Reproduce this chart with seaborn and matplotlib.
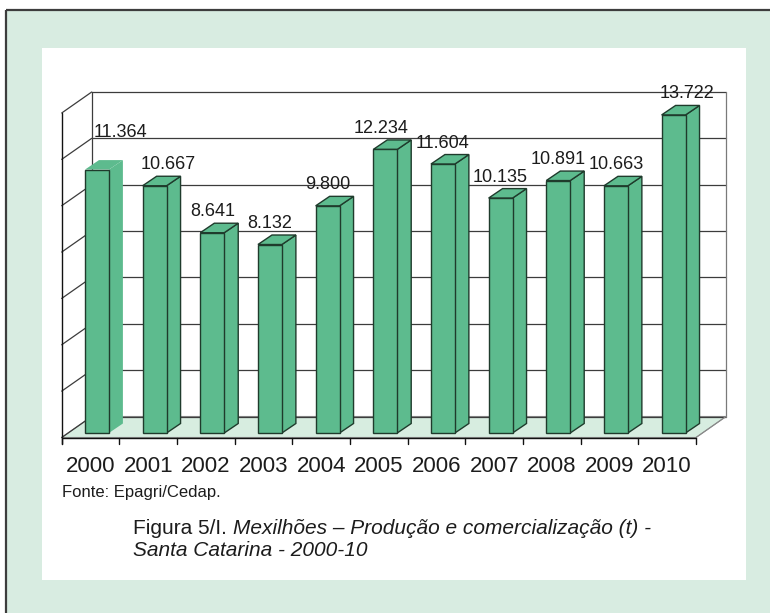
import matplotlib
matplotlib.use("Agg")
import matplotlib.pyplot as plt
import matplotlib.transforms as mtransforms
from matplotlib.patches import Polygon, Rectangle
import seaborn as sns
import pandas as pd

# --- data -------------------------------------------------------------
years = ["2000", "2001", "2002", "2003", "2004", "2005",
         "2006", "2007", "2008", "2009", "2010"]
production_t = [11364, 10667, 8641, 8132, 9800, 12234,
                11604, 10135, 10891, 10663, 13722]
value_labels = ["11.364", "10.667", "8.641", "8.132", "9.800", "12.234",
                "11.604", "10.135", "10.891", "10.663", "13.722"]
y_ticks = [0, 2000, 4000, 6000, 8000, 10000, 12000, 14000]

source_text = "Fonte: Epagri/Cedap."
caption_plain = "Figura 5/I."
caption_italic_1 = "Mexilhões – Produção e comercialização (t) -"
caption_italic_2 = "Santa Catarina - 2000-10"

# --- style ------------------------------------------------------------
sns.set_style("white")
plt.rcParams["font.family"] = ["Liberation Sans", "DejaVu Sans"]

W, H = 770, 613
BAR = "#5dbb8e"
BAR_EDGE = "#1f3b2c"
OUTER = "#d8ece1"
FLOOR = "#d7ede0"
GRID = "#3c3c3c"
TXT = "#1c1c1c"

fig = plt.figure(figsize=(W / 100, H / 100), dpi=100)

# background layer in pixel coordinates
bg = fig.add_axes([0, 0, 1, 1], zorder=0)
bg.set_xlim(0, W)
bg.set_ylim(H, 0)
bg.axis("off")
bg.add_patch(Rectangle((6, 10), W, H, facecolor=OUTER, edgecolor="none"))
bg.plot([6, W], [10, 10], color="#3d3d3d", lw=1.6, solid_capstyle="butt")
bg.plot([6, 6], [10, H], color="#3d3d3d", lw=1.6, solid_capstyle="butt")
bg.add_patch(Rectangle((42, 48), 704, 532, facecolor="white", edgecolor="none"))

# front plane of the 3D box
x0_px, x1_px = 61.7, 696.0
y0_px, y1_px = 437.5, 113.0
ax = fig.add_axes([x0_px / W, (H - y0_px) / H,
                   (x1_px - x0_px) / W, (y0_px - y1_px) / H], zorder=2)
ax.patch.set_visible(False)

df = pd.DataFrame({"ano": years, "t": production_t})
sns.barplot(data=df, x="ano", y="t", ax=ax, color=BAR, saturation=1,
            width=0.415, edgecolor=BAR_EDGE, linewidth=1.0, zorder=5)
bars = list(ax.patches)

ax.set_xlim(-0.5, len(years) - 0.5)
ax.set_ylim(0, y_ticks[-1])
ax.axis("off")

px_x = (x1_px - x0_px) / len(years)      # pixels per category
px_y = (y0_px - y1_px) / y_ticks[-1]     # pixels per tonne


def off(dx_px, dy_px):
    """Pixel offset (right, up) expressed in data units."""
    return dx_px / px_x, dy_px / px_y


wx, wy = off(30, 21)       # depth of the whole box
fx, fy = off(6.4, 4.5)     # front face of the columns
bx, by = off(14, 9.5)      # depth of a column
xl, xr = -0.5, len(years) - 0.5
top = y_ticks[-1]

# back wall and left wall
ax.add_patch(Polygon([(xl, 0), (xl + wx, wy), (xl + wx, top + wy), (xl, top)],
                     closed=True, facecolor="white", edgecolor="none",
                     zorder=0, clip_on=False))
ax.add_patch(Polygon([(xl, 0), (xr, 0), (xr + wx, wy), (xl + wx, wy)],
                     closed=True, facecolor=FLOOR, edgecolor="#8a8a8a",
                     linewidth=0.8, zorder=1, clip_on=False))
for v in y_ticks:
    ax.plot([xl + wx, xr + wx], [v + wy, v + wy], color=GRID, lw=0.9,
            zorder=1, clip_on=False)
    ax.plot([xl, xl + wx], [v, v + wy], color=GRID, lw=0.9,
            zorder=1, clip_on=False)
ax.plot([xl + wx, xl + wx], [wy, top + wy], color=GRID, lw=0.9, zorder=1, clip_on=False)
ax.plot([xr + wx, xr + wx], [wy, top + wy], color="#7a7a7a", lw=0.9, zorder=1, clip_on=False)

# front edge of the floor with category ticks
tick_len = 6 / px_y
ax.plot([xl, xl], [-tick_len, top], color="#111111", lw=1.0, zorder=3, clip_on=False)
ax.plot([xl, xr], [0, 0], color="#111111", lw=1.0, zorder=3, clip_on=False)
for k in range(len(years) + 1):
    ax.plot([xl + k, xl + k], [0, -tick_len], color="#111111", lw=1.0,
            zorder=3, clip_on=False)
ax.plot([xr, xr + wx], [0, wy], color="#8a8a8a", lw=0.8, zorder=1, clip_on=False)

# 3D columns: shift the seaborn front faces, then add side and top faces
shift = mtransforms.offset_copy(ax.transData, fig=fig, x=6.4, y=4.5, units="dots")
for i, p in enumerate(bars):
    p.set_transform(shift)
    p.set_clip_on(False)
    a = p.get_x()
    b = a + p.get_width()
    h = p.get_height()
    ec = "none" if i == 0 else BAR_EDGE
    side = [(b + fx, fy), (b + fx, h + fy), (b + fx + bx, h + fy + by), (b + fx + bx, fy + by)]
    roof = [(a + fx, h + fy), (b + fx, h + fy), (b + fx + bx, h + fy + by), (a + fx + bx, h + fy + by)]
    for pts in (side, roof):
        ax.add_patch(Polygon(pts, closed=True, facecolor=BAR, edgecolor=ec,
                             linewidth=1.0, zorder=4, clip_on=False))

# value labels above the columns
nudge_x = [24, 14, 0, 0, 0, -4, 0, 0, 0, 0, 13]
nudge_y = [16, 0, 0, 0, 0, 0, 0, 0, 0, 0, 0]
for i, (p, lab) in enumerate(zip(bars, value_labels)):
    cx = p.get_x() + p.get_width() / 2 + fx + nudge_x[i] / px_x
    cy = p.get_height() + fy + (21 + nudge_y[i]) / px_y
    ax.text(cx, cy, lab, ha="center", va="center", fontsize=13, color=TXT,
            zorder=8, clip_on=False)

# category labels
for i, yr in enumerate(years):
    ax.text(i, -(472 - y0_px) / px_y, yr, ha="center", va="baseline",
            fontsize=16, color=TXT, clip_on=False)

# source and caption
bg.text(62, 497, source_text, ha="left", va="baseline", fontsize=12, color=TXT)
t1 = bg.text(133, 533.5, caption_plain, ha="left", va="baseline",
             fontsize=15, color=TXT)
fig.canvas.draw()
bb = t1.get_window_extent()
bg.text(bb.x1 + 6, 533.5, caption_italic_1, ha="left", va="baseline",
        fontsize=15, style="italic", color=TXT)
bg.text(133, 555.5, caption_italic_2, ha="left", va="baseline",
        fontsize=15, style="italic", color=TXT)

fig.savefig("out.png", dpi=100)
